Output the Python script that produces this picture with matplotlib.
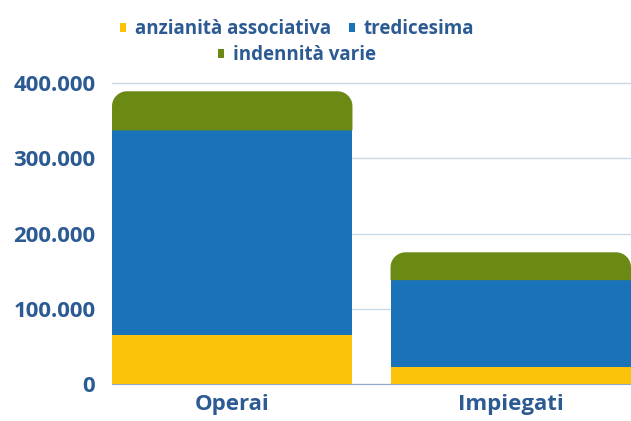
import numpy as np
import matplotlib.pyplot as plt
from matplotlib.patches import Polygon, Patch
from matplotlib.ticker import FuncFormatter

categories = ['Operai', 'Impiegati']
anzianita = [65000, 22500]
tredicesima = [272000, 115500]
indennita = [52000, 37000]
series_names = ['anzianità associativa', 'tredicesima', 'indennità varie']
yticks = [0, 100000, 200000, 300000, 400000]

colors = ['#FAC30A', '#1A73B9', '#6A8A14']
text_color = '#2C5A93'
grid_color = '#CBDAE8'

plt.rcParams['font.family'] = ['Open Sans', 'DejaVu Sans']
plt.rcParams['font.weight'] = 'bold'

fig = plt.figure(figsize=(6.31, 4.21), dpi=100)
ax = fig.add_axes([112 / 631, 37 / 421, 1 - 112 / 631, 301 / 421])

width = 0.8
x = [0, 0.8 + 38 / 240 * 0.8]
ax.set_xlim(x[0] - width / 2, x[1] + width / 2)
ax.set_ylim(0, 400000)

ax.bar(x, anzianita, width=width, color=colors[0], zorder=3)
mid = [a + t for a, t in zip(anzianita, tredicesima)]
ax.bar(x, tredicesima, width=width, bottom=anzianita, color=colors[1], zorder=3)


def rounded_top(x0, x1, y0, y1, rx, ry, n=20):
    # bar outline with the two upper corners rounded
    t = np.linspace(0, np.pi / 2, n)
    right = [(x1 - rx + rx * np.cos(a), y1 - ry + ry * np.sin(a)) for a in t]
    left = [(x0 + rx - rx * np.cos(a), y1 - ry + ry * np.sin(a)) for a in t[::-1]]
    return [(x0, y0), (x1, y0)] + right + left


# pixel size in data units, used for the corner radius
fig.canvas.draw()
inv = ax.transData.inverted()
p0 = inv.transform((0, 0))
p1 = inv.transform((1, 1))
dx = p1[0] - p0[0]
dy = p1[1] - p0[1]
radius_px = 15
for xi, b, h in zip(x, mid, indennita):
    pts = rounded_top(xi - width / 2, xi + width / 2, b, b + h,
                      radius_px * dx, radius_px * dy)
    ax.add_patch(Polygon(pts, closed=True, facecolor=colors[2],
                         edgecolor='none', zorder=3))

ax.set_xticks(x)
ax.set_xticklabels(categories)
ax.set_yticks(yticks)
ax.yaxis.set_major_formatter(FuncFormatter(lambda v, p: '{:,.0f}'.format(v).replace(',', '.')))
ax.tick_params(axis='both', length=0, labelsize=16, labelcolor=text_color)
ax.tick_params(axis='y', pad=12)
ax.tick_params(axis='x', pad=7.5)

ax.yaxis.grid(True, color=grid_color, linewidth=1, zorder=0)
ax.set_axisbelow(True)
for side in ['top', 'right', 'left']:
    ax.spines[side].set_visible(False)
ax.spines['bottom'].set_color('#8FA9C6')
ax.spines['bottom'].set_zorder(1)
ax.yaxis.get_gridlines()[-1].set_clip_on(False)

handles = [Patch(facecolor=c, edgecolor='none') for c in colors]
legend_kw = dict(loc='center', frameon=False, labelcolor=text_color,
                 handlelength=0.33, handleheight=0.33, handletextpad=0.45,
                 borderpad=0, prop={'weight': 'bold', 'size': 13.5})
fig.legend(handles[:2], series_names[:2], ncol=2, columnspacing=0.95,
           bbox_to_anchor=(297 / 631, 1 - 29 / 421), **legend_kw)
fig.legend(handles[2:], series_names[2:],
           bbox_to_anchor=(297 / 631, 1 - 55 / 421), **legend_kw)

fig.savefig('out.png', dpi=100)
